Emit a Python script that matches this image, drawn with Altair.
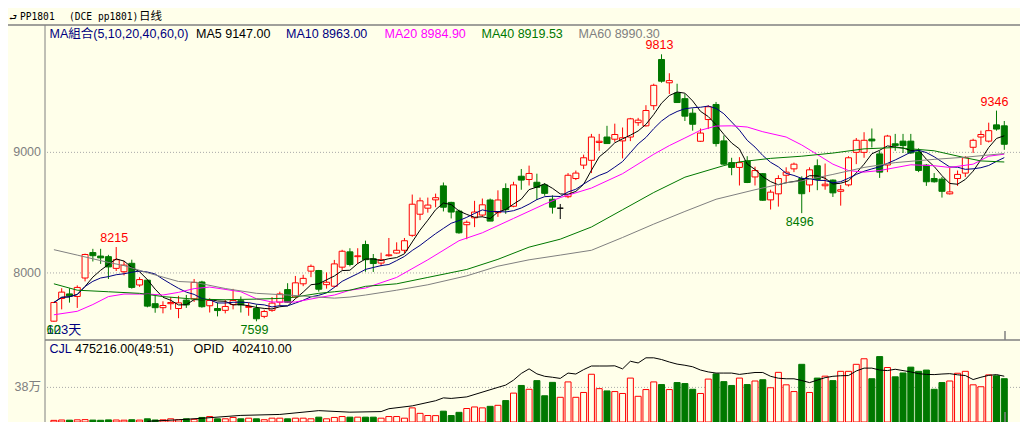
import altair as alt
import pandas as pd

# ---------------- data ----------------
opens = [7600, 7788, 7826, 7805, 7958, 8169, 8140, 8135, 8038, 8010,
         8080, 7900, 7940, 7745, 7712, 7745, 7705, 7775, 7785, 7925,
         7728, 7705, 7690, 7738, 7770, 7715, 7705, 7640, 7690, 7758,
         7862, 7800, 7910, 8015, 8020, 7903, 7890, 8048, 8175, 8135,
         8236, 8118, 8082, 8143, 8165, 8188, 8312, 8487, 8537, 8606,
         8722, 8585, 8513, 8400, 8457, 8480, 8605, 8500, 8700, 8553,
         8802, 8775, 8752, 8730, 8611, 8537, 8632, 8783, 8894, 8934,
         9082, 9127, 9109, 9095, 9127, 9246, 9220, 9387, 9770, 9577,
         9492, 9445, 9325, 9092, 9272, 9397, 9095, 8915, 8875, 8929,
         8796, 8823, 8606, 8656, 8810, 8863, 8783, 8730, 8889, 8723,
         8770, 8677, 8730, 9000, 9000, 9110, 8987, 8895, 9071, 9093,
         9093, 9003, 8894, 8783, 8778, 8656, 8783, 8828, 9042, 9127,
         9093, 9228, 9220]
highs = [7760, 7873, 7873, 7897, 8160, 8200, 8200, 8150, 8215, 8100,
         8110, 7965, 7945, 7810, 7765, 7800, 7810, 7818, 7950, 7935,
         7790, 7755, 7778, 7868, 7805, 7752, 7738, 7695, 7800, 7845,
         7915, 7975, 7985, 8070, 8025, 8005, 8108, 8192, 8205, 8205,
         8268, 8157, 8168, 8290, 8254, 8290, 8650, 8625, 8625, 8658,
         8750, 8590, 8525, 8435, 8598, 8617, 8617, 8685, 8743, 8756,
         8862, 8890, 8823, 8745, 8643, 8572, 8828, 8849, 8981, 9153,
         9153, 9220, 9238, 9206, 9286, 9286, 9391, 9569, 9813, 9656,
         9569, 9484, 9365, 9198, 9391, 9418, 9140, 8955, 8960, 8968,
         8881, 8828, 8690, 8810, 8876, 8915, 8801, 8876, 8942, 8907,
         8775, 8730, 8968, 9119, 9167, 9198, 9013, 9145, 9153, 9153,
         9153, 9034, 8903, 8828, 8796, 8870, 8849, 8968, 9113, 9180,
         9246, 9346, 9260]
lows = [7595, 7698, 7754, 7710, 7930, 8095, 8075, 7950, 8016, 7980,
        7870, 7885, 7715, 7670, 7665, 7695, 7625, 7710, 7760, 7712,
        7672, 7640, 7665, 7698, 7672, 7645, 7599, 7625, 7678, 7730,
        7752, 7790, 7890, 7965, 7845, 7870, 7880, 8025, 8055, 8075,
        8010, 8008, 8056, 8135, 8160, 8165, 8300, 8438, 8500, 8545,
        8510, 8452, 8325, 8280, 8380, 8465, 8430, 8465, 8490, 8545,
        8690, 8725, 8605, 8640, 8492, 8447, 8620, 8770, 8862, 8828,
        9013, 9073, 9087, 8950, 9093, 9220, 9214, 9352, 9578, 9484,
        9410, 9260, 9180, 9087, 9193, 9048, 8897, 8810, 8725, 8745,
        8725, 8598, 8526, 8550, 8744, 8836, 8496, 8670, 8686, 8690,
        8630, 8558, 8717, 8902, 8955, 9040, 8788, 8836, 9013, 8995,
        8987, 8836, 8722, 8749, 8625, 8650, 8722, 8796, 8995, 9061,
        9082, 9180, 9021]
closes = [7755, 7841, 7810, 7880, 8153, 8143, 8125, 8050, 8110, 8065,
          7880, 7945, 7725, 7712, 7730, 7755, 7752, 7735, 7922, 7720,
          7772, 7688, 7722, 7772, 7735, 7722, 7620, 7680, 7750, 7826,
          7757, 7918, 7955, 8055, 7865, 7923, 8075, 8180, 8070, 8142,
          8110, 8078, 8110, 8150, 8188, 8267, 8570, 8598, 8563, 8624,
          8545, 8505, 8333, 8420, 8505, 8565, 8430, 8605, 8525, 8730,
          8770, 8825, 8710, 8660, 8545, 8537, 8810, 8828, 8955, 9127,
          9092, 9073, 9148, 9121, 9278, 9267, 9347, 9556, 9590, 9595,
          9413, 9300, 9233, 9160, 9378, 9073, 8902, 8875, 8915, 8750,
          8849, 8603, 8670, 8783, 8836, 8902, 8657, 8855, 8775, 8736,
          8664, 8690, 8955, 9100, 9100, 9095, 8836, 9135, 9056, 9056,
          8995, 8850, 8756, 8756, 8677, 8672, 8817, 8955, 9100, 9148,
          9180, 9193, 9067]
volumes = [18000, 22000, 20000, 24000, 26000, 21000, 19000, 23000, 22000, 20000, 25000, 21000,
           35000, 22000, 24000, 35000, 25000, 35000, 30000, 50000, 60000, 35000, 35000, 50000,
           35000, 42000, 35000, 25000, 42000, 42000,
           35000, 42000, 42000, 35000, 53000, 35000, 50000, 60000, 53000, 53000, 53000, 53000,
           42000, 60000, 60000, 42000,
           155000, 95000, 71000, 70000, 119000, 71000, 106000, 148000, 165000, 155000, 172000,
           183000, 235000, 317000,
           401000, 359000, 454000, 288000, 435000, 271000, 440000, 271000, 324000, 524000,
           366000, 341000, 334000, 313000, 482000, 282000, 356000, 440000, 411000, 356000,
           433000, 422000, 359000, 313000, 471000, 528000, 443000, 401000, 482000, 411000,
           450000, 464000, 376000, 545000, 408000, 334000, 633000, 324000, 482000, 503000,
           454000, 556000, 556000, 633000, 694000, 475000, 718000, 598000, 496000, 538000,
           602000, 556000, 570000, 359000, 433000, 450000, 535000, 556000, 408000, 387000,
           517000, 507000, 475216]

opid_idx = [12, 16, 19, 24, 29, 34, 38, 42, 43, 46, 49, 50, 51, 53, 57, 58] + list(range(59, 123))
opid_val = [166000, 174000, 182000, 197000, 202000, 222000, 214000, 217000, 232000, 247000,
            274000, 289000, 286000, 294000, 344000, 356000,
            382000, 417000, 441000, 415000, 402000, 397000, 391000, 419000, 414000, 437000,
            456000, 456000, 456000, 457000, 441000, 481000, 472000, 499000, 499000, 490000,
            477000, 466000, 460000, 452000, 435000, 425000, 419000, 419000, 419000, 412000,
            417000, 422000, 422000, 402000, 392000, 389000, 389000, 380000, 369000, 382000,
            395000, 402000, 405000, 406000, 430000, 445000, 445000, 435000, 432000, 439000,
            432000, 425000, 416000, 412000, 411000, 414000, 416000, 410000, 406000, 385000,
            397000, 407000, 411000, 402410]

ma20_idx = [0, 3, 5, 7, 9, 12, 14, 16, 18, 20, 24, 26, 28, 31, 34, 36, 38, 40, 44, 48,
            52, 55, 59, 63, 65, 69, 73, 77, 79, 81, 83, 85, 87, 89, 91, 94, 96, 98, 100, 102,
            104, 106, 110, 113, 115, 118, 120, 122]
ma20_val = [7653, 7682, 7738, 7804, 7825, 7825, 7817, 7839, 7870, 7883, 7844, 7786, 7759, 7759,
            7796, 7817, 7857, 7875, 7963, 8109, 8267, 8333, 8452, 8571, 8625, 8704, 8823, 8984,
            9056, 9119, 9183, 9218, 9220, 9210, 9171, 9127, 9061, 8982, 8902, 8849, 8836, 8849,
            8897, 8889, 8875, 8902, 8968, 8985]
ma40_idx = [0, 3, 7, 11, 14, 18, 22, 26, 30, 34, 36, 38, 40, 44, 48, 53, 57, 61, 65, 69,
            73, 77, 81, 86, 88, 92, 96, 100, 104, 108, 113, 117, 119, 122]
ma40_val = [7910, 7857, 7844, 7831, 7804, 7783, 7778, 7783, 7791, 7831, 7844, 7857, 7889, 7910,
            7963, 8029, 8113, 8214, 8280, 8381, 8524, 8667, 8794, 8890, 8921, 8950, 8968, 8994,
            9029, 9040, 9013, 8955, 8929, 8920]
ma60_idx = [0, 3, 7, 9, 12, 16, 18, 22, 26, 30, 33, 36, 38, 40, 44, 48, 53, 57, 61, 65,
            69, 73, 77, 81, 85, 90, 94, 96, 100, 104, 108, 113, 117, 122]
ma60_val = [8193, 8148, 8087, 8061, 8002, 7929, 7923, 7871, 7831, 7817, 7804, 7791, 7800, 7817,
            7857, 7902, 7976, 8056, 8109, 8148, 8188, 8294, 8405, 8510, 8611, 8690, 8748, 8764,
            8817, 8875, 8915, 8942, 8960, 8990]

peak_idx = [8, 26, 78, 96, 121]
peak_val = [8215, 7599, 9813, 8496, 9346]
peak_side = ["high", "low", "high", "low", "high"]

price_ticks = [8000, 9000]
price_tick_labels = ["8000", "9000"]
vol_ticks = [380000]
vol_tick_labels = ["38万"]

legend_texts = ["MA組合(5,10,20,40,60,0)", "MA5 9147.00", "MA10 8963.00",
                "MA20 8984.90", "MA40 8919.53", "MA60 8990.30"]
vol_legend_texts = ["CJL", "475216.00(49:51)", "OPID", "402410.00"]

# ---------------- styling / layout ----------------
BG = "#FFFFEA"
RED = "#FF0000"
GREEN = "#007800"
GRAY = "#808080"
NAVY = "#000080"
MAG = "#FF00FF"
SANS = "Liberation Sans, Noto Sans CJK SC, sans-serif"
MONO = "DejaVu Sans Mono, Noto Sans CJK SC, monospace"

W, H = 975, 414
TOP, SEP, BOT = 17, 332, 414

n = len(closes)
df = pd.DataFrame({"i": list(range(n)), "open": opens, "high": highs, "low": lows,
                   "close": closes, "vol": volumes})
df["dir"] = ["up" if c > o else ("down" if c < o else "flat") for o, c in zip(opens, closes)]
df["vdir"] = ["up" if c >= o else "down" for o, c in zip(opens, closes)]

XS = alt.Scale(domain=[-0.5, 123.375], nice=False, zero=False)
PRICE = alt.Scale(domain=[7444, 10056], range=[SEP, TOP], nice=False, zero=False)
VOL = alt.Scale(domain=[0, 900000], range=[BOT, SEP], nice=False, zero=False)
OPIDS = alt.Scale(domain=[162410, 592410], range=[BOT, SEP], nice=False, zero=False)
DIRS = ["up", "down", "flat"]
FILL_S = alt.Scale(domain=DIRS, range=[BG, GREEN, BG])
STROKE_S = alt.Scale(domain=DIRS, range=[RED, GREEN, "#000000"])

X = alt.X("i:Q", scale=XS, axis=None)
DUMMY = pd.DataFrame({"d": [0]})


def txt(s, x, y, color, size=12.5, font=SANS, align="left"):
    return alt.Chart(DUMMY).mark_text(text=s, align=align, baseline="middle", color=color,
                                      fontSize=size, font=font).encode(
        x=alt.value(x), y=alt.value(y))


layers = []

# grid lines + axis labels
pt = pd.DataFrame({"v": price_ticks, "lab": price_tick_labels})
layers.append(alt.Chart(pt).mark_rule(color="#A8A8A8", strokeDash=[1, 2], strokeWidth=1).encode(
    y=alt.Y("v:Q", scale=PRICE, axis=None)))
layers.append(alt.Chart(pt).mark_text(align="right", baseline="middle", color=GRAY,
                                      fontSize=12.5, font=SANS).encode(
    x=alt.value(-4), y=alt.Y("v:Q", scale=PRICE, axis=None), text="lab:N"))
vt = pd.DataFrame({"v": vol_ticks, "lab": vol_tick_labels})
layers.append(alt.Chart(vt).mark_rule(color="#A8A8A8", strokeDash=[1, 2], strokeWidth=1).encode(
    y=alt.Y("v:Q", scale=VOL, axis=None)))
layers.append(alt.Chart(vt).mark_text(align="right", baseline="middle", color=GRAY,
                                      fontSize=12.5, font=SANS).encode(
    x=alt.value(-4), y=alt.Y("v:Q", scale=VOL, axis=None), text="lab:N"))

# candlesticks
base = alt.Chart(df)
layers.append(base.mark_rule(strokeWidth=1).encode(
    x=X, y=alt.Y("low:Q", scale=PRICE, axis=None), y2="high:Q",
    color=alt.Color("dir:N", scale=STROKE_S, legend=None)))
layers.append(base.mark_bar(size=6, strokeWidth=1).encode(
    x=X, y=alt.Y("open:Q", scale=PRICE, axis=None, stack=None), y2="close:Q",
    fill=alt.Fill("dir:N", scale=FILL_S, legend=None),
    stroke=alt.Stroke("dir:N", scale=STROKE_S, legend=None)))

# moving averages
layers.append(base.transform_window(ma5="mean(close)", frame=[-4, 0],
                                    sort=[alt.SortField("i")]).mark_line(
    color="#000000", strokeWidth=1).encode(x=X, y=alt.Y("ma5:Q", scale=PRICE, axis=None)))
layers.append(base.transform_window(ma10="mean(close)", frame=[-9, 0],
                                    sort=[alt.SortField("i")]).mark_line(
    color=NAVY, strokeWidth=1).encode(x=X, y=alt.Y("ma10:Q", scale=PRICE, axis=None)))
for mi, mv, col in [(ma20_idx, ma20_val, MAG), (ma40_idx, ma40_val, GREEN),
                    (ma60_idx, ma60_val, GRAY)]:
    layers.append(alt.Chart(pd.DataFrame({"i": mi, "v": mv})).mark_line(
        color=col, strokeWidth=1).encode(x=X, y=alt.Y("v:Q", scale=PRICE, axis=None)))

# high / low markers
pk = pd.DataFrame({"i": peak_idx, "v": peak_val, "side": peak_side})
layers.append(alt.Chart(pk).transform_filter("datum.side == 'high'").mark_text(
    color=RED, fontSize=12.5, font=SANS, baseline="middle", dy=-9, dx=-2).encode(
    x=X, y=alt.Y("v:Q", scale=PRICE, axis=None), text=alt.Text("v:Q", format="d")))
layers.append(alt.Chart(pk).transform_filter("datum.side == 'low'").mark_text(
    color=GREEN, fontSize=12.5, font=SANS, baseline="middle", dy=9, dx=-2).encode(
    x=X, y=alt.Y("v:Q", scale=PRICE, axis=None), text=alt.Text("v:Q", format="d")))

# volume bars + open interest
layers.append(base.mark_bar(size=6, strokeWidth=1).encode(
    x=X, y=alt.Y("vol:Q", scale=VOL, axis=None, stack=None), y2=alt.datum(0),
    fill=alt.Fill("vdir:N", scale=FILL_S, legend=None),
    stroke=alt.Stroke("vdir:N", scale=STROKE_S, legend=None)))
layers.append(alt.Chart(pd.DataFrame({"i": opid_idx, "v": opid_val})).mark_line(
    color="#000000", strokeWidth=1, clip=True).encode(
    x=X, y=alt.Y("v:Q", scale=OPIDS, axis=None)))

# frame lines
layers.append(alt.Chart(DUMMY).mark_rule(color=GRAY, strokeWidth=1.5).encode(
    x=alt.value(-37), x2=alt.value(W), y=alt.value(TOP)))
layers.append(alt.Chart(DUMMY).mark_rule(color=GRAY, strokeWidth=1).encode(
    x=alt.value(0), y=alt.value(TOP), y2=alt.value(BOT)))
layers.append(alt.Chart(DUMMY).mark_rule(color=GRAY, strokeWidth=1.5).encode(
    x=alt.value(0), x2=alt.value(W), y=alt.value(SEP)))
# scroll cursor marks at the right
layers.append(alt.Chart(DUMMY).mark_rule(color=GRAY, strokeWidth=1.5).encode(
    x=alt.value(960), y=alt.value(323), y2=alt.value(SEP)))
layers.append(alt.Chart(DUMMY).mark_rule(color=GRAY, strokeWidth=1.5).encode(
    x=alt.value(960), y=alt.value(404), y2=alt.value(BOT)))

# title bar
layers.append(txt("⮐", -36, 8.5, "#000000", size=9, font="DejaVu Sans"))
layers.append(txt("PP1801", -25, 8.5, "#000000", size=9.6, font=MONO))
layers.append(txt("(DCE pp1801)", 24, 8.5, "#000000", size=9.6, font=MONO))
layers.append(txt("日线", 94, 8.5, "#000000", size=11.5, font=SANS))

# MA legend row
leg_x = [4.5, 151, 241, 339.5, 436.5, 533.5]
leg_c = [NAVY, "#000000", NAVY, MAG, GREEN, GRAY]
for s, x, c in zip(legend_texts, leg_x, leg_c):
    layers.append(txt(s, x, 26, c))

# volume legend row
vleg_x = [4.5, 30, 148.5, 187.5]
vleg_c = [NAVY, "#000000", "#000000", "#000000"]
for s, x, c in zip(vol_legend_texts, vleg_x, vleg_c):
    layers.append(txt(s, x, 341, c))

# day counter at bottom-left of price panel
layers.append(txt("123天", 1.5, 322, NAVY, size=13))
layers.append(txt("60", 1.5, 322, GREEN, size=13))

chart = alt.layer(*layers).resolve_scale(y="independent").properties(
    width=W, height=H, background=BG,
    padding={"left": 37, "top": 0, "right": 0, "bottom": 0},
    autosize=alt.AutoSizeParams(type="none"),
).configure_view(stroke=None)

chart.save("out.html", embed_options={"renderer": "svg", "actions": False})
